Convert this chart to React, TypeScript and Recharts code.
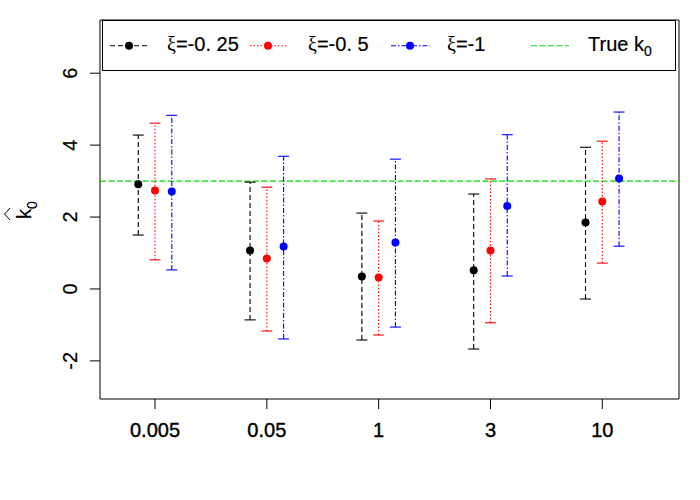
import React from 'react';
import { ComposedChart, Scatter, XAxis, YAxis, ErrorBar, ReferenceLine, ReferenceArea } from 'recharts';

// ---------- data ----------
const categories = ['0.005', '0.05', '1', '3', '10'];
const seriesNames = ['-0. 25', '-0. 5', '-1'];

const meanXi025 = [2.91, 1.07, 0.35, 0.52, 1.85];
const lowXi025 = [1.5, -0.86, -1.42, -1.67, -0.28];
const highXi025 = [4.28, 2.97, 2.11, 2.64, 3.94];

const meanXi05 = [2.74, 0.85, 0.32, 1.07, 2.43];
const lowXi05 = [0.81, -1.17, -1.28, -0.94, 0.72];
const highXi05 = [4.61, 2.83, 1.89, 3.06, 4.11];

const meanXi1 = [2.71, 1.18, 1.29, 2.31, 3.07];
const lowXi1 = [0.53, -1.39, -1.06, 0.36, 1.19];
const highXi1 = [4.83, 3.69, 3.61, 4.29, 4.92];

const yTicks = [-2, 0, 2, 4, 6];
const xTicks = [1, 2, 3, 4, 5];
const trueK0 = 3;

// ---------- styling ----------
const X_DOMAIN: [number, number] = [0.508, 5.686];
const Y_DOMAIN: [number, number] = [-3.06, 7.48];
const offsets = [-0.15, 0, 0.15];
const colors = ['#000000', '#ff0000', '#0000ff'];
const dashes = ['5 3', '1.5 2', '5 2 1.5 2'];
const GREEN = '#00dd00';
const FONT = "'Liberation Sans', Arial, sans-serif";
const SERIF = "'Liberation Serif', 'DejaVu Serif', serif";
const LW = 1.1;

const means = [meanXi025, meanXi05, meanXi1];
const lows = [lowXi025, lowXi05, lowXi1];
const highs = [highXi025, highXi05, highXi1];

const pointData = means.map((m, s) =>
  categories.map((_, i) => ({
    x: i + 1 + offsets[s],
    y: m[i],
    err: [m[i] - lows[s][i], highs[s][i] - m[i]],
  }))
);
const capData = means.map((_, s) =>
  categories.flatMap((__, i) => [
    { x: i + 1 + offsets[s], y: lows[s][i] },
    { x: i + 1 + offsets[s], y: highs[s][i] },
  ])
);

const XTick = (props: any) => {
  const { x, y, payload } = props;
  return (
    <text
      x={x}
      y={y + 27.7}
      textAnchor="middle"
      fontSize={20}
      fontFamily={FONT}
      fill="#000"
      stroke="#000"
      strokeWidth={0.4}
    >
      {categories[payload.value - 1]}
    </text>
  );
};

const YTick = (props: any) => {
  const { x, y, payload } = props;
  return (
    <text
      transform={`translate(${x - 13},${y}) rotate(-90)`}
      textAnchor="middle"
      fontSize={20}
      fontFamily={FONT}
      fill="#000"
      stroke="#000"
      strokeWidth={0.2}
    >
      {payload.value}
    </text>
  );
};

const YLabel = (props: any) => {
  const vb = props.viewBox || { x: 0, y: 20, width: 100, height: 379 };
  const cy = vb.y + vb.height / 2;
  return (
    <g transform={`translate(${vb.x + 31},${cy + 9.5}) rotate(-90)`}>
      <text x={0} y={0} fontSize={20} fontFamily={FONT} fill="#000" stroke="#000" strokeWidth={0.2}>
        k
        <tspan fontSize={14} dy={6}>0</tspan>
      </text>
      <path d="M -1,-21 L 5,-26.5 L 11,-21" fill="none" stroke="#000" strokeWidth={1} />
    </g>
  );
};

const Legend = () => {
  const L = 102;
  const T = 20;
  const cy = T + 25.7;
  const base = T + 31;
  const items = [
    { x1: 8, x2: 45, pt: 27, tx: 65 },
    { x1: 148, x2: 185, pt: 166, tx: 206 },
    { x1: 289, x2: 328, pt: 308, tx: 345 },
  ];
  return (
    <svg width={700} height={500} style={{ position: 'absolute', left: 0, top: 0, pointerEvents: 'none' }}>
      <rect x={L + 0.5} y={T + 0.5} width={573} height={50} fill="#fff" stroke="#000" strokeWidth={1} />
      {items.map((it, s) => (
        <g key={s}>
          <line x1={L + it.x1} x2={L + it.x2} y1={cy} y2={cy} stroke={colors[s]} strokeWidth={LW} strokeDasharray={dashes[s]} />
          <circle cx={L + it.pt} cy={cy} r={4} fill={colors[s]} />
          <text x={L + it.tx} y={base} fontSize={20} fontFamily={FONT} fill="#000" stroke="#000" strokeWidth={0.2}>
            <tspan fontFamily={SERIF} strokeWidth={0}>ξ</tspan>
            <tspan>={seriesNames[s]}</tspan>
          </text>
        </g>
      ))}
      <line x1={L + 429} x2={L + 467} y1={cy} y2={cy} stroke={GREEN} strokeWidth={LW} strokeDasharray="6 2.5" />
      <text x={L + 486} y={base} fontSize={20} fontFamily={FONT} fill="#000" stroke="#000" strokeWidth={0.2}>
        True k<tspan fontSize={14} dy={5}>0</tspan>
      </text>
    </svg>
  );
};

export default function App() {
  return (
    <div style={{ position: 'absolute', left: 0, top: 0, width: 700, height: 500, background: '#fff' }}>
      <ComposedChart width={700} height={500} margin={{ top: 20, right: 21, bottom: 0, left: 0 }}>
        <XAxis
          type="number"
          dataKey="x"
          domain={X_DOMAIN}
          ticks={xTicks}
          allowDataOverflow
          interval={0}
          height={101}
          tickSize={10}
          tickMargin={0}
          axisLine={false}
          tickLine={{ stroke: '#000' }}
          tick={<XTick />}
        />
        <YAxis
          type="number"
          dataKey="y"
          domain={Y_DOMAIN}
          ticks={yTicks}
          allowDataOverflow
          interval={0}
          width={100}
          tickSize={10}
          tickMargin={0}
          axisLine={false}
          tickLine={{ stroke: '#000' }}
          tick={<YTick />}
          label={{ content: (p: any) => <YLabel {...p} /> }}
        />
        <ReferenceArea
          x1={X_DOMAIN[0]}
          x2={X_DOMAIN[1]}
          y1={Y_DOMAIN[0]}
          y2={Y_DOMAIN[1]}
          fill="none"
          fillOpacity={0}
          stroke="#000"
          strokeOpacity={1}
          strokeWidth={1}
          ifOverflow="visible"
        />
        <ReferenceLine y={trueK0} stroke={GREEN} strokeDasharray="6 2.5" strokeWidth={LW} />
        {capData.map((d, s) => (
          <Scatter
            key={`cap${s}`}
            data={d}
            isAnimationActive={false}
            shape={(p: any) => (
              <line x1={p.cx - 5.5} x2={p.cx + 5.5} y1={p.cy} y2={p.cy} stroke={colors[s]} strokeWidth={LW} />
            )}
          />
        ))}
        {pointData.map((d, s) => (
          <Scatter
            key={`pt${s}`}
            data={d}
            isAnimationActive={false}
            shape={(p: any) => <circle cx={p.cx} cy={p.cy} r={4} fill={colors[s]} />}
          >
            <ErrorBar
              dataKey="err"
              direction="y"
              width={0}
              stroke={colors[s]}
              strokeWidth={LW}
              strokeDasharray={dashes[s]}
              isAnimationActive={false}
            />
          </Scatter>
        ))}
      </ComposedChart>
      <Legend />
    </div>
  );
}
